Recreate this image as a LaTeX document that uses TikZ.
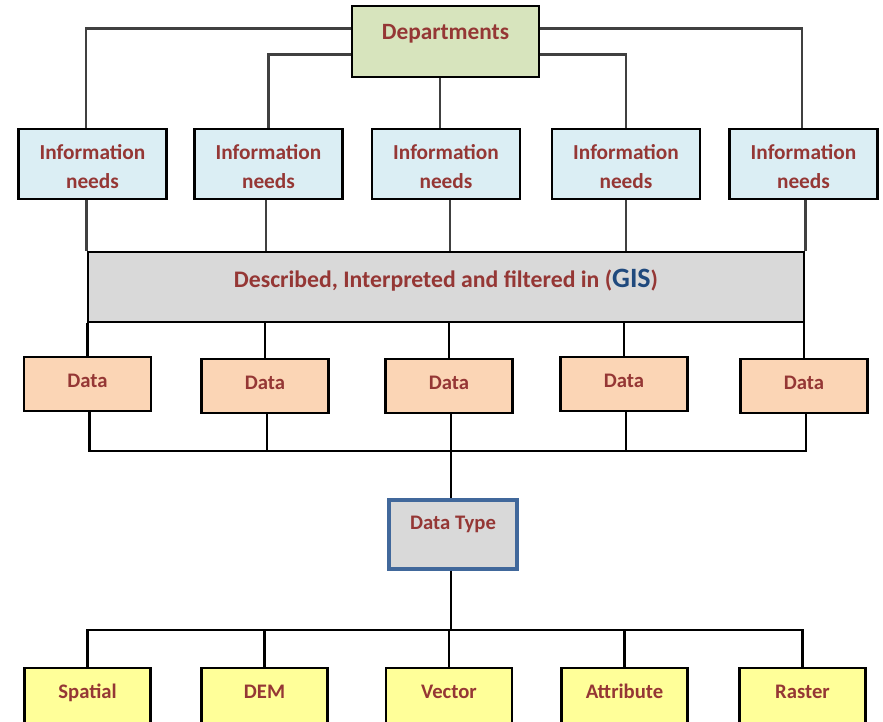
\documentclass[tikz,border=0pt]{standalone}
\usepackage{fontspec}
\setmainfont{Carlito}
\usetikzlibrary{calc}
\definecolor{txtred}{HTML}{953735}
\definecolor{gisblue}{HTML}{1F497D}
\definecolor{deptfill}{HTML}{D7E4BD}
\definecolor{infofill}{HTML}{DBEEF4}
\definecolor{grayfill}{HTML}{D9D9D9}
\definecolor{datafill}{HTML}{FBD5B5}
\definecolor{yelfill}{HTML}{FFFF99}
\definecolor{dtborder}{HTML}{41689B}
\definecolor{gline}{HTML}{404040}
\newcommand{\infotext}{\rule{0pt}{15pt}Information\\needs}
\begin{document}
\begin{tikzpicture}[x=0.75pt,y=-0.75pt,
  box/.style={draw=black,line width=2.2pt,inner sep=0pt,text=txtred,
    font=\bfseries\fontsize{15.5}{18}\selectfont},
  deptbox/.style={box,fill=deptfill,minimum width=140.25pt,minimum height=53.25pt,
    text height=24.75pt,text depth=28.5pt,font=\bfseries\fontsize{17.5}{20}\selectfont},
  infobox/.style={box,fill=infofill,minimum width=111pt,minimum height=52.5pt,align=center,
    font=\bfseries\fontsize{16}{21.75}\selectfont},
  gisbox/.style={box,fill=grayfill,minimum width=537pt,minimum height=52.5pt,
    text height=26.25pt,text depth=26.25pt,font=\bfseries\fontsize{17.8}{20}\selectfont},
  databox/.style={box,fill=datafill,minimum width=95.25pt,minimum height=40.5pt,
    text height=22.5pt,text depth=18pt},
  typebox/.style={box,draw=dtborder,line width=2.6pt,fill=grayfill,minimum width=96pt,minimum height=51.75pt,
    text height=21.75pt,text depth=30pt},
  leafbox/.style={box,fill=yelfill,minimum width=94.5pt,minimum height=52.5pt,
    text height=22.5pt,text depth=30pt},
  gconn/.style={draw=gline,line width=1.8pt},
  bconn/.style={draw=black,line width=1.8pt}]
\useasboundingbox (0,0) rectangle (883,722);
\fill[white] (0,0) rectangle (883,722);
\clip (0,0) rectangle (883,722);

% nodes
\node[deptbox] (dept) at (445.5,41.5) {Departments};
\node[infobox] (i1) at (92.5,164) {\infotext};
\node[infobox] (i2) at (268.5,164) {\infotext};
\node[infobox] (i3) at (446,164) {\infotext};
\node[infobox] (i4) at (626,164) {\infotext};
\node[infobox] (i5) at (803.5,164) {\infotext};
\node[gisbox] (gis) at (446,287) {Described, Interpreted and filtered in ({\color{gisblue}\fontsize{21}{22}\selectfont GIS})};
\node[databox] (d1) at (87.5,384) {Data};
\node[databox] (d2) at (265,386) {Data};
\node[databox] (d3) at (449,386) {Data};
\node[databox] (d4) at (624,384) {Data};
\node[databox] (d5) at (804,386) {Data};
\node[typebox] (dt) at (453,534.5) {Data Type};
\node[leafbox] (b1) at (87.5,703) {Spatial};
\node[leafbox] (b2) at (264.5,703) {DEM};
\node[leafbox] (b3) at (449,703) {Vector};
\node[leafbox] (b4) at (624.5,703) {Attribute};
\node[leafbox] (b5) at (802.5,703) {Raster};

% departments to information needs
\draw[gconn] ($(dept.north west)+(0,24)$) -| ($(i1.north)+(-6.5,0)$);
\draw[gconn] ($(dept.north west)+(0,50)$) -| (i2.north);
\draw[gconn] ($(i3.north)+(-6,0)$) coordinate (c3) -- (c3 |- dept.south);
\draw[gconn] ($(dept.north east)+(0,50)$) -| (i4.north);
\draw[gconn] ($(dept.north east)+(0,24)$) -| ($(i5.north)+(-1.5,0)$);

% information needs to GIS bar
\draw[gconn] (i1.south -| gis.north west) -- (gis.north west);
\draw[gconn] ($(i2.south)+(-2.5,0)$) coordinate (e2) -- (e2 |- gis.north);
\draw[gconn] ($(i3.south)+(4,0)$) coordinate (e3) -- (e3 |- gis.north);
\draw[gconn] (i4.south) -- (i4.south |- gis.north);
\draw[gconn] (i5.south -| gis.north east) -- (gis.north east);

% GIS bar to data
\foreach \n in {d1,d2,d3,d4,d5}
  \draw[bconn] (\n.north) -- (\n.north |- gis.south);

% data to data type
\coordinate (hub) at (451,451);
\coordinate (legA) at ($(d1.south)+(2,0)$);
\coordinate (legB) at ($(d2.south)+(2,0)$);
\coordinate (legC) at ($(d3.south)+(2,0)$);
\coordinate (legD) at ($(d4.south)+(2,0)$);
\coordinate (legE) at ($(d5.south)+(2,0)$);
\foreach \n in {A,B,C,D,E}
  \draw[bconn] (leg\n) -- (leg\n |- hub);
\draw[bconn,line cap=rect] (legA |- hub) -- (legE |- hub);
\draw[bconn] (hub) -- (hub |- dt.north);

% data type to leaves
\coordinate (hub2) at (451,630);
\draw[bconn] (hub2 |- dt.south) -- (hub2);
\draw[bconn,line cap=rect] (b1.north |- hub2) -- (b5.north |- hub2);
\foreach \n in {b1,b2,b3,b4,b5}
  \draw[bconn] (\n.north) -- (\n.north |- hub2);
\end{tikzpicture}
\end{document}
